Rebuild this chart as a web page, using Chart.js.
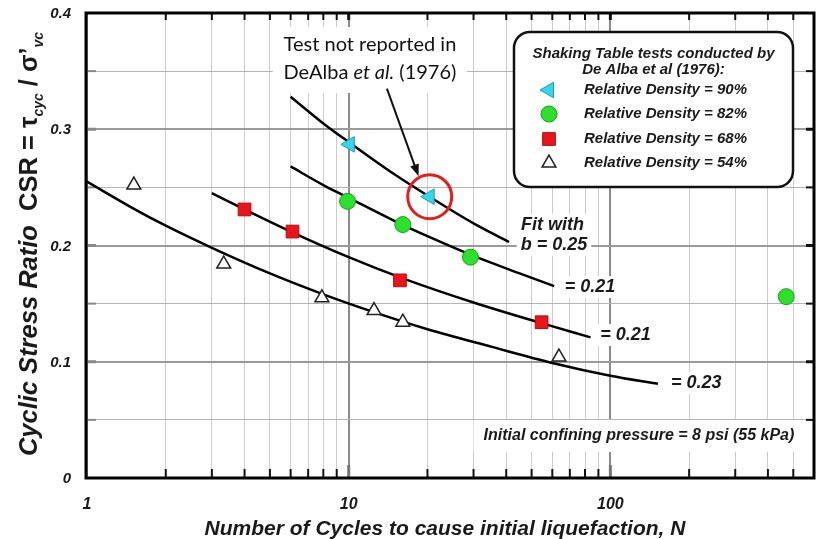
<!DOCTYPE html>
<html>
<head>
<meta charset="utf-8">
<script src="https://cdn.jsdelivr.net/npm/chart.js@4.4.1/dist/chart.umd.min.js"></script>
<style>
  html, body { margin: 0; padding: 0; background: #fff; }
</style>
</head>
<body>
<canvas id="myChart" width="817" height="539"></canvas>
<script>
// shaking table results: cycles to liquefaction N vs CSR
const dr90N = [10.1, 20.4];
const dr90Csr = [0.287, 0.242];
const dr82N = [9.9, 16.1, 29.2, 470];
const dr82Csr = [0.238, 0.218, 0.190, 0.156];
const dr68N = [4, 6.1, 15.7, 54.6];
const dr68Csr = [0.231, 0.212, 0.170, 0.134];
const dr54N = [1.51, 3.33, 7.9, 12.5, 16.1, 63.6];
const dr54Csr = [0.252, 0.184, 0.155, 0.144, 0.134, 0.104];

// fitted curves
const fit90N = [6, 8, 10, 15, 20, 30, 41];
const fit90Csr = [0.328, 0.305, 0.289, 0.261, 0.243, 0.219, 0.203];
const fit82N = [6, 8, 10, 15, 20, 30, 45, 61];
const fit82Csr = [0.268, 0.252, 0.241, 0.221, 0.208, 0.191, 0.176, 0.165];
const fit68N = [3, 4, 6, 10, 16, 30, 55, 84];
const fit68Csr = [0.245, 0.231, 0.212, 0.190, 0.172, 0.151, 0.133, 0.121];
const fit54N = [1, 1.5, 2, 3, 5, 8, 12, 20, 35, 60, 100, 152];
const fit54Csr = [0.255, 0.232, 0.217, 0.198, 0.176, 0.158, 0.144, 0.128, 0.113, 0.099, 0.088, 0.081];

const legendLabels = ['Relative Density = 90%', 'Relative Density = 82%', 'Relative Density = 68%', 'Relative Density = 54%'];
const xGridVals = [1, 2, 3, 4, 5, 6, 7, 8, 9, 10, 20, 30, 40, 50, 60, 70, 80, 90, 100, 200, 300, 400, 500, 600];
const xMajor = [1, 10, 100];
const yTickVals = [0, 0.1, 0.2, 0.3, 0.4];
const yTickLabels = ['0', '0.1', '0.2', '0.3', '0.4'];

const FONT = '"Liberation Sans", Arial, sans-serif';
const pts = (xs, ys) => xs.map((x, i) => ({ x: x, y: ys[i] }));

const markers = [
  { pointStyle: 'triangle', rotation: -90, radius: 9, fill: '#38d4e8', stroke: '#1b9fb3', bw: 1 },
  { pointStyle: 'circle', rotation: 0, radius: 8, fill: '#2ee02e', stroke: '#17a017', bw: 1 },
  { pointStyle: 'rect', rotation: 0, radius: 9, fill: '#e8161b', stroke: '#b30d10', bw: 1 },
  { pointStyle: 'triangle', rotation: 0, radius: 8, fill: '#ffffff', stroke: '#222222', bw: 1.5 }
];

function pointSet(xs, ys, m) {
  return {
    data: pts(xs, ys), showLine: false, order: 1,
    pointStyle: m.pointStyle, rotation: m.rotation, pointRadius: m.radius,
    backgroundColor: m.fill, borderColor: m.stroke, pointBorderWidth: m.bw
  };
}

function fitSet(xs, ys) {
  return {
    data: pts(xs, ys), showLine: true, order: 2, pointRadius: 0,
    borderColor: '#000', borderWidth: 2.5, cubicInterpolationMode: 'monotone', fill: false
  };
}

// labels placed at (N, CSR)
const notes = [
  { t: 'Fit with', n: 60.1, y: 0.2176 },
  { t: 'b = 0.25', n: 60.9, y: 0.2004 },
  { t: '= 0.21', n: 83.6, y: 0.1643 },
  { t: '= 0.21', n: 114.2, y: 0.123 },
  { t: '= 0.23', n: 213, y: 0.0817 }
];

function whiteText(ctx, text, x, y, font, pad) {
  ctx.font = font;
  const w = ctx.measureText(text).width;
  ctx.fillStyle = '#fff';
  ctx.fillRect(x - w / 2 - pad, y - 11, w + pad * 2, 22);
  ctx.fillStyle = '#1a1a1a';
  ctx.fillText(text, x, y);
}

function roundRect(ctx, x, y, w, h, r) {
  ctx.beginPath();
  ctx.moveTo(x + r, y);
  ctx.arcTo(x + w, y, x + w, y + h, r);
  ctx.arcTo(x + w, y + h, x, y + h, r);
  ctx.arcTo(x, y + h, x, y, r);
  ctx.arcTo(x, y, x + w, y, r);
  ctx.closePath();
}

const decorations = {
  id: 'decorations',
  beforeDatasetsDraw(chart) {
    const { ctx, chartArea: a, scales } = chart;
    const X = scales.x, Y = scales.y;
    ctx.save();
    ctx.textAlign = 'center';
    ctx.textBaseline = 'middle';

    // annotation box at the top
    const ax = X.getPixelForValue(12.06);
    ctx.fillStyle = '#fff';
    ctx.fillRect(ax - 97, Y.getPixelForValue(0.388), 194, 66);
    ctx.fillStyle = '#111';
    const f1 = '20px Lato, "Open Sans", sans-serif', f2 = 'italic 20px Lato, "Open Sans", sans-serif';
    ctx.font = f1;
    ctx.fillText('Test not reported in', ax, Y.getPixelForValue(0.3725));
    const l2a = 'DeAlba ', l2b = 'et al.', l2c = ' (1976)';
    ctx.font = f1; const wa = ctx.measureText(l2a).width, wc = ctx.measureText(l2c).width;
    ctx.font = f2; const wb = ctx.measureText(l2b).width;
    let sx = ax - (wa + wb + wc) / 2;
    const ly = Y.getPixelForValue(0.349);
    ctx.textAlign = 'left';
    ctx.font = f1; ctx.fillText(l2a, sx, ly); sx += wa;
    ctx.font = f2; ctx.fillText(l2b, sx, ly); sx += wb;
    ctx.font = f1; ctx.fillText(l2c, sx, ly);
    ctx.textAlign = 'center';

    // fit exponent labels
    notes.forEach(o => {
      whiteText(ctx, o.t, X.getPixelForValue(o.n), Y.getPixelForValue(o.y), 'italic bold 18px ' + FONT, 4);
    });

    // confining pressure note
    const cx = X.getPixelForValue(128.6), cy = Y.getPixelForValue(0.0361);
    ctx.font = 'italic bold 16px ' + FONT;
    const cw = ctx.measureText('Initial confining pressure = 8 psi (55 kPa)').width;
    ctx.fillStyle = '#fff';
    ctx.fillRect(cx - cw / 2 - 10, cy - 16, cw + 20, 32);
    ctx.fillStyle = '#1a1a1a';
    ctx.fillText('Initial confining pressure = 8 psi (55 kPa)', cx, cy);

    // legend
    const lx = 514, ly0 = 32, lw = 279, lh = 155;
    ctx.fillStyle = '#fff';
    roundRect(ctx, lx, ly0, lw, lh, 16);
    ctx.fill();
    ctx.lineWidth = 2.5;
    ctx.strokeStyle = '#111';
    ctx.stroke();
    ctx.fillStyle = '#1a1a1a';
    ctx.font = 'italic bold 15px ' + FONT;
    ctx.fillText('Shaking Table tests conducted by', lx + lw / 2, 54);
    ctx.fillText('De Alba et al (1976):', lx + lw / 2, 70);
    const rows = [90, 114, 139, 163];
    ctx.textAlign = 'left';
    legendLabels.forEach((lab, i) => {
      const m = markers[i];
      ctx.fillStyle = m.fill; ctx.strokeStyle = m.stroke; ctx.lineWidth = m.bw;
      Chart.helpers.drawPoint(ctx, { pointStyle: m.pointStyle, rotation: m.rotation, radius: m.radius, borderWidth: m.bw }, 549, rows[i]);
      ctx.fillStyle = '#1a1a1a';
      ctx.font = 'italic bold 15px ' + FONT;
      ctx.fillText(lab, 584, rows[i]);
    });

    // inner tick marks
    xGridVals.forEach(v => {
      const px = X.getPixelForValue(v);
      if (v === 1 || v === 600) return;
      const major = xMajor.includes(v);
      ctx.strokeStyle = major ? '#777' : '#111';
      ctx.lineWidth = major ? 3 : 2;
      ctx.beginPath();
      ctx.moveTo(px, a.bottom); ctx.lineTo(px, a.bottom - (major ? 13 : 9));
      ctx.stroke();
      ctx.strokeStyle = '#111';
      ctx.beginPath();
      ctx.moveTo(px, a.top); ctx.lineTo(px, a.top + 7);
      ctx.stroke();
    });
    for (let k = 1; k < 8; k++) {
      const py = Y.getPixelForValue(k * 0.05);
      ctx.strokeStyle = '#888';
      ctx.lineWidth = k % 2 === 0 ? 3 : 2;
      ctx.beginPath(); ctx.moveTo(a.left, py); ctx.lineTo(a.left + 9, py); ctx.stroke();
      ctx.strokeStyle = '#111';
      ctx.beginPath(); ctx.moveTo(a.right, py); ctx.lineTo(a.right - 8, py); ctx.stroke();
    }

    // frame
    ctx.strokeStyle = '#000';
    ctx.lineWidth = 3;
    ctx.strokeRect(a.left - 1, a.top, a.right - a.left + 1, a.bottom - a.top);
    ctx.restore();
  },
  afterDatasetsDraw(chart) {
    const { ctx, scales } = chart;
    const X = scales.x, Y = scales.y;
    ctx.save();
    // arrow towards the circled test
    const x0 = X.getPixelForValue(14), y0 = Y.getPixelForValue(0.335);
    const x1 = X.getPixelForValue(18.5), y1 = Y.getPixelForValue(0.2595);
    const ang = Math.atan2(y1 - y0, x1 - x0);
    ctx.strokeStyle = '#111'; ctx.fillStyle = '#111'; ctx.lineWidth = 2;
    ctx.beginPath(); ctx.moveTo(x0, y0); ctx.lineTo(x1 - 8 * Math.cos(ang), y1 - 8 * Math.sin(ang)); ctx.stroke();
    ctx.beginPath();
    ctx.moveTo(x1, y1);
    ctx.lineTo(x1 - 12 * Math.cos(ang) + 4.5 * Math.sin(ang), y1 - 12 * Math.sin(ang) - 4.5 * Math.cos(ang));
    ctx.lineTo(x1 - 12 * Math.cos(ang) - 4.5 * Math.sin(ang), y1 - 12 * Math.sin(ang) + 4.5 * Math.cos(ang));
    ctx.closePath(); ctx.fill();
    ctx.restore();
  },
  afterDraw(chart) {
    const { ctx, scales } = chart;
    const X = scales.x, Y = scales.y;
    ctx.save();
    ctx.fillStyle = '#1a1a1a';

    // tick labels
    ctx.font = 'italic bold 16px ' + FONT;
    ctx.textAlign = 'center';
    ctx.textBaseline = 'middle';
    xMajor.forEach(v => ctx.fillText(String(v), X.getPixelForValue(v), 505));
    ctx.font = 'italic bold 15px ' + FONT;
    ctx.textAlign = 'right';
    yTickVals.forEach((v, i) => ctx.fillText(yTickLabels[i], 71, Y.getPixelForValue(v) + 1));

    // x axis title
    ctx.textAlign = 'center';
    ctx.textBaseline = 'alphabetic';
    ctx.font = 'italic bold 21px ' + FONT;
    ctx.fillText('Number of Cycles to cause initial liquefaction, N', 445, 535);

    // y axis title with subscripts
    const big = 'italic bold 25.5px ' + FONT, plain = 'bold 25.5px ' + FONT, sub = 'italic bold 14px ' + FONT;
    const parts = [
      { t: 'Cyclic Stress Ratio', f: big, dy: 0 },
      { t: '  CSR = \u03C4', f: plain, dy: 0 },
      { t: 'cyc', f: sub, dy: 6 },
      { t: ' / \u03C3\u2019', f: plain, dy: 0 },
      { t: 'vc', f: sub, dy: 6 }
    ];
    let total = 0;
    parts.forEach(p => { ctx.font = p.f; p.w = ctx.measureText(p.t).width; total += p.w; });
    ctx.translate(37, 244);
    ctx.rotate(-Math.PI / 2);
    ctx.textAlign = 'left';
    let px = -total / 2;
    parts.forEach(p => { ctx.font = p.f; ctx.fillText(p.t, px, p.dy); px += p.w; });
    ctx.restore();
  }
};

new Chart(document.getElementById('myChart'), {
  type: 'scatter',
  data: {
    datasets: [
      fitSet(fit90N, fit90Csr),
      fitSet(fit82N, fit82Csr),
      fitSet(fit68N, fit68Csr),
      fitSet(fit54N, fit54Csr),
      pointSet(dr90N, dr90Csr, markers[0]),
      pointSet(dr82N, dr82Csr, markers[1]),
      pointSet(dr68N, dr68Csr, markers[2]),
      pointSet(dr54N, dr54Csr, markers[3]),
      {
        // circled test
        data: [{ x: dr90N[1], y: dr90Csr[1] }], showLine: false, order: 0,
        pointRadius: 22, pointStyle: 'circle', backgroundColor: 'rgba(0,0,0,0)',
        borderColor: '#e0201c', pointBorderWidth: 3
      }
    ]
  },
  options: {
    responsive: false,
    animation: false,
    layout: { autoPadding: false, padding: { top: 13, right: 3, left: 0, bottom: 0 } },
    plugins: { legend: { display: false }, tooltip: { enabled: false } },
    scales: {
      x: {
        type: 'logarithmic', min: 1, max: 600,
        afterBuildTicks: axis => { axis.ticks = xGridVals.map(v => ({ value: v })); },
        afterFit: s => { s.height = 61; },
        border: { display: false },
        grid: {
          drawTicks: false,
          color: c => xMajor.includes(c.tick.value) ? '#8a8a8a' : '#cccccc',
          lineWidth: c => xMajor.includes(c.tick.value) ? 2 : 1
        },
        ticks: { display: false }
      },
      y: {
        min: 0, max: 0.4,
        afterFit: s => { s.width = 87; },
        border: { display: false },
        grid: {
          drawTicks: false,
          color: c => Math.round(c.tick.value * 100) % 10 === 0 ? '#9a9a9a' : '#b4b4b4',
          lineWidth: c => Math.round(c.tick.value * 100) % 10 === 0 ? 2 : 1
        },
        ticks: { display: false, stepSize: 0.05 }
      }
    }
  },
  plugins: [decorations]
});
</script>
</body>
</html>
